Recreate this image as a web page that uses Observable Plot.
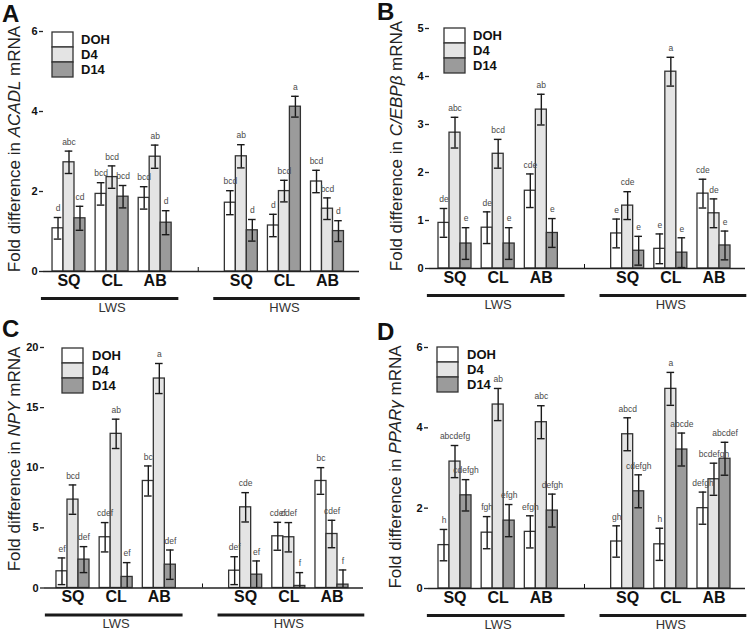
<!DOCTYPE html>
<html>
<head>
<meta charset="utf-8">
<script src="https://cdn.jsdelivr.net/npm/d3@7"></script>
<script src="https://cdn.jsdelivr.net/npm/@observablehq/plot@0.6"></script>
<style>
  html, body { margin: 0; padding: 0; background: #fff; }
  #fig { position: relative; width: 749px; height: 639px; background: #fff; overflow: hidden; }
  .panel { position: absolute; width: 375px; height: 320px; }
</style>
</head>
<body>
<div id="fig"></div>
<script>
// ---------- data ----------
const days = ["DOH", "D4", "D14"];
const tissues = ["SQ", "CL", "AB"];
const sites = ["LWS", "HWS"];

// order: LWS(SQ: DOH,D4,D14 | CL | AB), HWS(SQ | CL | AB)
const acadlMean = [1.08, 2.73, 1.33, 1.94, 2.36, 1.87, 1.84, 2.87, 1.22, 1.72, 2.88, 1.03, 1.15, 2.01, 4.12, 2.25, 1.57, 1.01];
const acadlSE   = [0.27, 0.28, 0.30, 0.28, 0.28, 0.28, 0.28, 0.29, 0.30, 0.30, 0.29, 0.27, 0.28, 0.27, 0.26, 0.28, 0.27, 0.26];
const acadlSig  = ["d", "abc", "cd", "bcd", "bcd", "bcd", "bcd", "ab", "d", "bcd", "ab", "d", "d", "bcd", "a", "bcd", "bcd", "d"];

const cebpbMean = [0.95, 2.83, 0.52, 0.85, 2.39, 0.52, 1.62, 3.31, 0.74, 0.73, 1.31, 0.37, 0.41, 4.10, 0.33, 1.56, 1.15, 0.48];
const cebpbSE   = [0.30, 0.32, 0.33, 0.33, 0.30, 0.33, 0.35, 0.32, 0.30, 0.30, 0.29, 0.30, 0.31, 0.30, 0.31, 0.30, 0.30, 0.30];
const cebpbSig  = ["de", "abc", "e", "de", "bcd", "e", "cde", "ab", "e", "e", "cde", "e", "e", "a", "e", "cde", "de", "e"];

const npyMean = [1.39, 7.35, 2.36, 4.22, 12.82, 0.92, 8.90, 17.42, 1.94, 1.44, 6.71, 1.11, 4.30, 4.22, 0.17, 8.90, 4.49, 0.28];
const npySE   = [1.11, 1.22, 1.08, 1.22, 1.22, 1.19, 1.25, 1.25, 1.22, 1.16, 1.22, 1.14, 1.16, 1.22, 1.11, 1.11, 1.14, 1.22];
const npySig  = ["ef", "bcd", "def", "cdef", "ab", "ef", "bc", "a", "def", "def", "cde", "ef", "cdef", "cdef", "f", "bc", "cdef", "f"];

const pparMean = [1.08, 3.16, 2.32, 1.39, 4.58, 1.69, 1.41, 4.14, 1.94, 1.17, 3.84, 2.42, 1.10, 4.97, 3.46, 2.00, 2.72, 3.23];
const pparSE   = [0.39, 0.40, 0.39, 0.40, 0.40, 0.40, 0.40, 0.41, 0.41, 0.39, 0.41, 0.41, 0.40, 0.41, 0.41, 0.40, 0.40, 0.41];
const pparSig  = ["h", "abcdefg", "cdefgh", "fgh", "ab", "efgh", "efgh", "abc", "defgh", "gh", "abcd", "cdefgh", "h", "a", "abcde", "defgh", "bcdefgh", "abcdef"];

// ---------- styling / layout ----------
const FONT = "'Liberation Sans', Arial, Helvetica, sans-serif";
const dayColors = ["#ffffff", "#e4e4e4", "#9b9b9b"];
const BAR = 0.255, HALF = BAR / 2, CAP = 0.088;

const panels = [
  { letter: "A", left: 0, top: 0, mean: acadlMean, se: acadlSE, sig: acadlSig, ymax: 6, ticks: [0, 2, 4, 6],
    gene: "ACADL", mt: 31, mb: 49, ml: 43, mr: 16, xd: [-0.592, 6.743],
    labelX: 20, labelY: 149, letterY: 22, lgX: 52, lgY: 32, lgTx: 81 },
  { letter: "B", left: 375, top: 0, mean: cebpbMean, se: cebpbSE, sig: cebpbSig, ymax: 5, ticks: [0, 1, 2, 3, 4, 5],
    gene: "C/EBPβ", mt: 28, mb: 52, ml: 54, mr: 5, xd: [-0.591, 6.73],
    labelX: 27, labelY: 146, letterY: 20, lgX: 69, lgY: 28, lgTx: 98 },
  { letter: "C", left: 0, top: 320, mean: npyMean, se: npySE, sig: npySig, ymax: 20, ticks: [0, 5, 10, 15, 20],
    gene: "NPY", mt: 27, mb: 52.5, ml: 44, mr: 12, xd: [-0.66, 6.73],
    labelX: 20, labelY: 139, letterY: 17, lgX: 62, lgY: 28, lgTx: 92 },
  { letter: "D", left: 375, top: 320, mean: pparMean, se: pparSE, sig: pparSig, ymax: 6, ticks: [0, 2, 4, 6],
    gene: "PPARγ", mt: 27, mb: 52, ml: 53, mr: 5, xd: [-0.614, 6.73],
    labelX: 26, labelY: 147, letterY: 20, lgX: 62, lgY: 27, lgTx: 92 }
];

const fig = document.getElementById("fig");

for (const cfg of panels) {
  const rows = cfg.mean.map((m, i) => {
    const s = Math.floor(i / 9), t = Math.floor((i % 9) / 3), d = i % 3;
    const e = cfg.se[i];
    return { site: sites[s], tissue: tissues[t], day: days[d], mean: m, sig: cfg.sig[i],
             pos: s * 4 + t + (d - 1) * BAR, lo: Math.max(0, m - e), hi: m + e, below: m - e < 0 };
  });
  const tissueTicks = sites.flatMap((s, si) => tissues.map((t, ti) => ({ name: t, pos: si * 4 + ti })));
  const siteSpans = sites.map((s, si) => ({ name: s, mid: si * 4 + 1,
    x1: si === 0 ? -0.64 : 3.36, x2: si === 0 ? 2.55 : 6.76 }));

  const plot = Plot.plot({
    width: 375, height: 320,
    marginTop: cfg.mt, marginBottom: cfg.mb, marginLeft: cfg.ml, marginRight: cfg.mr,
    x: { domain: cfg.xd },
    y: { domain: [0, cfg.ymax] },
    color: { domain: days, range: dayColors },
    style: { fontFamily: FONT, background: "#fff", overflow: "visible", color: "#111" },
    marks: [
      Plot.rect(rows, { x1: d => d.pos - HALF, x2: d => d.pos + HALF, y1: () => 0, y2: "mean",
                        fill: "day", stroke: "#333", strokeWidth: 1.3 }),
      Plot.ruleX(rows, { x: "pos", y1: "lo", y2: "hi", stroke: "#1a1a1a", strokeWidth: 1.4 }),
      Plot.ruleY(rows, { y: "hi", x1: d => d.pos - CAP, x2: d => d.pos + CAP, stroke: "#1a1a1a", strokeWidth: 1.4 }),
      Plot.ruleY(rows.filter(d => !d.below), { y: "lo", x1: d => d.pos - CAP, x2: d => d.pos + CAP, stroke: "#1a1a1a", strokeWidth: 1.4 }),
      Plot.text(rows, { x: "pos", y: "hi", text: "sig", dy: -9, fontSize: 8.5, fill: "#4a4a4a" }),
      Plot.ruleY([0], { stroke: "#222", strokeWidth: 1.3 }),
      Plot.axisY({ ticks: cfg.ticks, tickFormat: d => String(d), tickSize: 4, tickPadding: 2, fontSize: 11, fontWeight: "bold",
                   label: null, line: true, stroke: "#222", strokeWidth: 1.3 }),
      Plot.axisX({ ticks: [3], tickSize: 4, dy: -4, tickFormat: () => "", label: null }),
      Plot.text(tissueTicks, { x: "pos", text: "name", frameAnchor: "bottom", dy: 14,
                               fontSize: 16, fontWeight: "bold", fill: "#111" }),
      Plot.ruleY(siteSpans, { y: () => 0, x1: "x1", x2: "x2", dy: 27, stroke: "#1a1a1a", strokeWidth: 3 }),
      Plot.text(siteSpans, { x: "mid", text: "name", frameAnchor: "bottom", dy: 40, fontSize: 13, fill: "#333" })
    ]
  });

  const svg = d3.select(plot);
  // panel letter
  svg.append("text").attr("x", 2).attr("y", cfg.letterY).attr("text-anchor", "start")
    .style("font-family", FONT).style("font-size", "24px").style("font-weight", "bold").attr("fill", "#111")
    .text(cfg.letter);
  // y label with italic gene name
  const yl = svg.append("text")
    .attr("transform", `translate(${cfg.labelX},${cfg.labelY}) rotate(-90)`)
    .attr("text-anchor", "middle").attr("fill", "#222")
    .style("font-family", FONT).style("font-size", "17px");
  yl.append("tspan").text("Fold difference in ");
  yl.append("tspan").style("font-style", "italic").text(cfg.gene);
  yl.append("tspan").text(" mRNA");
  // legend
  const lg = svg.append("g").attr("text-anchor", "start");
  days.forEach((d, i) => {
    lg.append("rect").attr("x", cfg.lgX).attr("y", cfg.lgY + i * 15).attr("width", 21).attr("height", 15)
      .attr("fill", dayColors[i]).attr("stroke", "#333").attr("stroke-width", 1.3);
    lg.append("text").attr("x", cfg.lgTx).attr("y", cfg.lgY + i * 15 + 7.5).attr("dy", "0.36em")
      .style("font-family", FONT).style("font-size", "13px").style("font-weight", "bold").attr("fill", "#111")
      .text(d);
  });

  const div = document.createElement("div");
  div.className = "panel";
  div.style.left = cfg.left + "px";
  div.style.top = cfg.top + "px";
  div.appendChild(plot);
  fig.appendChild(div);
}
</script>
</body>
</html>
